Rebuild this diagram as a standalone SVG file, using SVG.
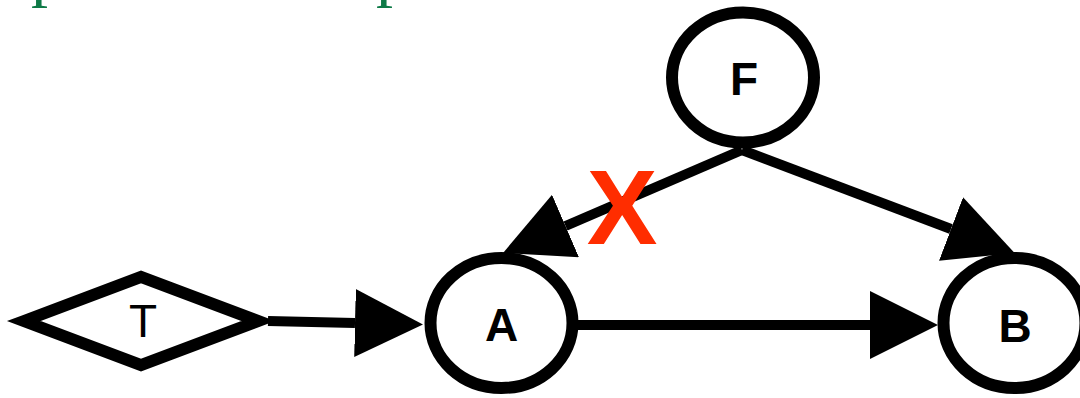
<svg xmlns="http://www.w3.org/2000/svg" width="1080" height="398" viewBox="0 0 1080 398">
  <defs>
    <marker id="arrow" markerUnits="userSpaceOnUse" markerWidth="68" markerHeight="68" refX="0" refY="34" orient="auto">
      <path d="M0,0 L68,34 L0,68 Z" fill="#000"/>
    </marker>
  </defs>
  <style>
    .node { fill: #fff; stroke: #000; stroke-width: 12; }
    .edge { fill: none; stroke: #000; stroke-width: 10; marker-end: url(#arrow); }
    .label { font-family: "Liberation Sans", Arial, sans-serif; font-size: 46px; fill: #000; text-anchor: middle; }
    .bold { font-weight: bold; }
    .title { font-family: "Liberation Serif", "Times New Roman", serif; font-size: 68px; fill: #0e7a47; }
    .cut { font-family: "Liberation Sans", Arial, sans-serif; font-weight: bold; font-size: 106px; fill: #ff2d00; text-anchor: middle; }
  </style>

  <!-- heading, mostly above the top edge -->
  <text class="title" x="31" y="-6">p</text>
  <text class="title" x="376" y="-6">p</text>

  <!-- connectors -->
  <g id="edges">
    <line class="edge" x1="268" y1="321" x2="355" y2="323"/>
    <line class="edge" x1="578" y1="325" x2="870" y2="325"/>
    <line class="edge" x1="742" y1="150" x2="565.5" y2="226"/>
    <line class="edge" x1="742" y1="150" x2="951" y2="229"/>
  </g>

  <!-- broken link marker on F -> A -->
  <text class="cut" x="622" y="244">X</text>

  <g id="node-T">
    <polygon class="node" stroke-linejoin="miter" stroke-miterlimit="10" points="24,321 141,277 258,321 141,365"/>
    <text class="label" x="143" y="337">T</text>
  </g>

  <g id="node-A">
    <ellipse class="node" cx="501.5" cy="323" rx="71" ry="65"/>
    <text class="label bold" x="501.5" y="341">A</text>
  </g>

  <g id="node-B">
    <ellipse class="node" cx="1014.5" cy="323" rx="71" ry="65"/>
    <text class="label bold" x="1015" y="342">B</text>
  </g>

  <g id="node-F">
    <ellipse class="node" cx="743" cy="77.5" rx="71" ry="65"/>
    <text class="label bold" x="744" y="95">F</text>
  </g>
</svg>
